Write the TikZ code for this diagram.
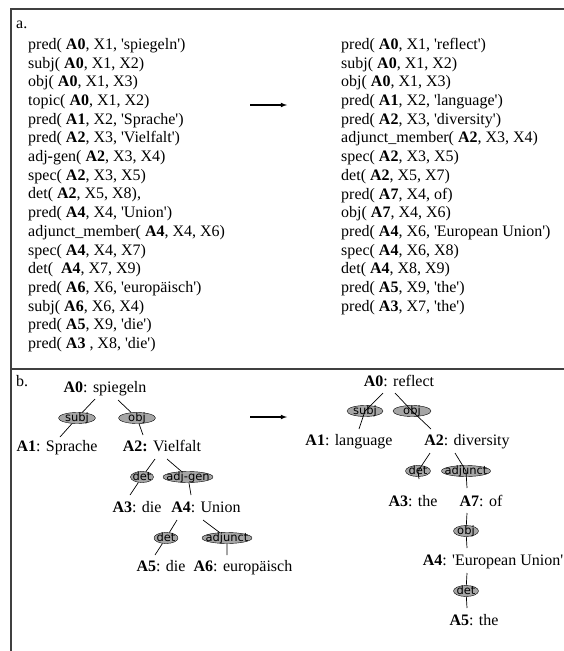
\documentclass[tikz,border=0pt]{standalone}
\usepackage{fontspec}
\newfontfamily\serifrm{Liberation Serif}
\newfontfamily\lblsans{DejaVu Sans}
\usepackage{tikz}
\usetikzlibrary{shapes.geometric, arrows, calc}

% label set into the ellipse without widening it
\newcommand{\rellabel}[1]{\makebox[0pt]{\raisebox{-3.4pt}[0pt][0pt]{#1}}}

\begin{document}
\begin{tikzpicture}[x=1pt, y=-1pt]

        % Define styles
        \tikzstyle{frame} = [draw=black!75, line width=1.3pt]
        \tikzstyle{facts} = [anchor=north west, align=left, inner sep=0pt, font=\serifrm\fontsize{16}{18.7}\selectfont]
        \tikzstyle{word} = [inner sep=0pt, text height=11pt, text depth=3.5pt, font=\serifrm\fontsize{16}{19}\selectfont]
        \tikzstyle{rel} = [draw, ellipse, fill=black!35, inner sep=0pt, minimum height=11pt, font=\lblsans\fontsize{11.5}{11.5}\selectfont]
        \tikzstyle{line} = [draw, line width=0.7pt]
        \tikzstyle{arrow} = [draw, line width=1.1pt, -latex]

        \useasboundingbox (0,0) rectangle (564,651);

        % Frame
        \path [frame] (564,9) -- (11,9) -- (11,651);
        \path [frame] (11,369) -- (564,369);

        % Part a
        \node [word, anchor=base west] (parta) at (16,28) {a.};
        \node [facts] (german) at (28,38) {%
            pred( \textbf{A0}, X1, 'spiegeln')\\
            subj( \textbf{A0}, X1, X2)\\
            obj( \textbf{A0}, X1, X3)\\
            topic( \textbf{A0}, X1, X2)\\
            pred( \textbf{A1}, X2, 'Sprache')\\
            pred( \textbf{A2}, X3, 'Vielfalt')\\
            adj\textbf{-}gen( \textbf{A2}, X3, X4)\\
            spec( \textbf{A2}, X3, X5)\\
            det( \textbf{A2}, X5, X8),\\
            pred( \textbf{A4}, X4, 'Union')\\
            adjunct\_member( \textbf{A4}, X4, X6)\\
            spec( \textbf{A4}, X4, X7)\\
            det(\ \ \textbf{A4}, X7, X9)\\
            pred( \textbf{A6}, X6, 'europäisch')\\
            subj( \textbf{A6}, X6, X4)\\
            pred( \textbf{A5}, X9, 'die')\\
            pred( \textbf{A3} , X8, 'die')};
        \node [facts] (english) at (341,38) {%
            pred( \textbf{A0}, X1, 'reflect')\\
            subj( \textbf{A0}, X1, X2)\\
            obj( \textbf{A0}, X1, X3)\\
            pred( \textbf{A1}, X2, 'language')\\
            pred( \textbf{A2}, X3, 'diversity')\\
            adjunct\_member( \textbf{A2}, X3, X4)\\
            spec( \textbf{A2}, X3, X5)\\
            det( \textbf{A2}, X5, X7)\\
            pred( \textbf{A7}, X4, of)\\
            obj( \textbf{A7}, X4, X6)\\
            pred( \textbf{A4}, X6, 'European Union')\\
            spec( \textbf{A4}, X6, X8)\\
            det( \textbf{A4}, X8, X9)\\
            pred( \textbf{A5}, X9, 'the')\\
            pred( \textbf{A3}, X7, 'the')};
        \coordinate (mapa) at (250,105);
        \coordinate (mapaend) at (287,105);
        \path [arrow] (mapa) -- (mapaend);

        % Part b
        \node [word, anchor=base west] (partb) at (16,386) {b.};

        % German tree
        \node [word] (a0) at (105,389) {\textbf{A0}: spiegeln};
        \node [word] (a1) at (57,448) {\textbf{A1}: Sprache};
        \node [word] (a2) at (162,448) {\textbf{A2:} Vielfalt};
        \node [word] (a3) at (137,509) {\textbf{A3}: die};
        \node [word] (a4) at (206,509) {\textbf{A4}: Union};
        \node [word] (a5) at (161,568) {\textbf{A5}: die};
        \node [word] (a6) at (243,568) {\textbf{A6}: europäisch};
        \node [rel, minimum width=37pt] (subj) at (77,418) {\rellabel{subj}};
        \node [rel, minimum width=37pt] (obj) at (137,418) {\rellabel{obj}};
        \node [rel, minimum width=23pt] (detvf) at (142,477) {\rellabel{det}};
        \node [rel, minimum width=50pt] (adjgen) at (188,477) {\rellabel{adj-gen}};
        \node [rel, minimum width=24pt] (detun) at (166,538) {\rellabel{det}};
        \node [rel, minimum width=50pt] (adjunct) at (227,538) {\rellabel{adjunct}};
        \path [line] ($(a0)+(-10,10)$) -- (subj) -- ($(a1)+(3,-11)$);
        \path [line] ($(a0)+(13,11)$) -- (obj) -- ($(a2)+(-19,-13)$);
        \path [line] ($(a2)+(-7,11)$) -- (detvf) -- ($(a3)+(-7,-14)$);
        \path [line] ($(a2)+(5,11)$) -- (adjgen) -- ($(a4)+(-15,-14)$);
        \path [line] ($(a4)+(-29,11)$) -- (detun) -- ($(a5)+(-6,-13)$);
        \path [line] ($(a4)+(-3,11)$) -- (adjunct) -- ($(a6)+(-16,-13)$);

        \coordinate (mapb) at (250,417);
        \coordinate (mapbend) at (287,417);
        \path [arrow] (mapb) -- (mapbend);

        % English tree
        \node [word] (e0) at (399,383) {\textbf{A0}: reflect};
        \node [word] (e1) at (349,442) {\textbf{A1}: language};
        \node [word] (e2) at (467,442) {\textbf{A2}: diversity};
        \node [word] (e3) at (413,503) {\textbf{A3}: the};
        \node [word] (e7) at (481,503) {\textbf{A7}: of};
        \node [word] (e4) at (493,562) {\textbf{A4}: 'European Union'};
        \node [word] (e5) at (474,622) {\textbf{A5}: the};
        \node [rel, minimum width=36pt] (esubj) at (365,411) {\rellabel{subj}};
        \node [rel, minimum width=38pt] (eobj) at (412,411) {\rellabel{obj}};
        \node [rel, minimum width=25pt] (edet) at (418,471) {\rellabel{det}};
        \node [rel, minimum width=49pt] (eadjunct) at (466,471) {\rellabel{adjunct}};
        \node [rel, minimum width=25pt] (eobjof) at (466,531) {\rellabel{obj}};
        \node [rel, minimum width=25pt] (edeteu) at (466,591) {\rellabel{det}};
        \path [line] ($(e0)+(-16,10)$) -- (esubj.center) -- ($(e1)+(10,-13)$);
        \path [line] ($(e0)+(-4,10)$) -- (eobj.center) -- ($(e2)+(-36,-13)$);
        \path [line] ($(e2)+(-37,11)$) -- (edet.center) -- ($(e3)+(6,-24)$);
        \path [line] ($(e2)+(-12,11)$) -- (eadjunct.center) -- ($(e7)+(-14,-15)$);
        \path [line] ($(e7)+(-14,10)$) -- (eobjof) -- ($(e4)+(-26,-14)$);
        \path [line] ($(e4)+(-26,11)$) -- (edeteu) -- ($(e5)+(-7,-14)$);

\end{tikzpicture}
\end{document}
